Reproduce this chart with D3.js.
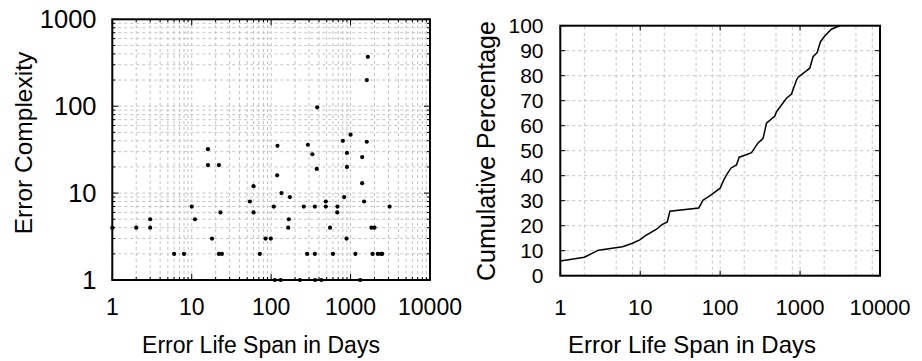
<!DOCTYPE html>
<html>
<head>
<meta charset="utf-8">
<script src="https://cdn.jsdelivr.net/npm/d3@7"></script>
<style>
  body { margin: 0; background: #fff; }
</style>
</head>
<body>
<div id="chart"></div>
<script>
// left panel: error life span (days) vs error complexity
const spanDays = [1, 2, 3, 3, 6, 8, 10, 11, 16, 16, 22, 18, 23, 22, 24,
  60, 54, 60, 72, 85, 99, 120, 119, 135, 172, 108, 167, 164,
  290, 330, 375, 800, 1600, 1650, 1600, 380, 1000, 900, 900, 1400, 1400,
  830, 1480, 258, 355, 488, 488, 684, 680, 3100, 552, 890, 1830, 2000,
  284, 355, 600, 1150, 1890, 2200, 2400, 2500,
  111, 132, 230, 358, 430, 1318];
const complexity = [4, 4, 4, 5, 2, 2, 7, 5, 32, 21, 21, 3, 6, 2, 2,
  12, 8, 6, 2, 3, 3, 35, 16, 10, 9, 7, 5, 4,
  36, 28, 19, 40, 39, 370, 200, 97, 47, 29, 20, 26, 13,
  9, 8, 7, 7, 7, 8, 7, 6, 7, 4, 3, 4, 4,
  2, 2, 2, 2, 2, 2, 2, 2,
  1, 1, 1, 1, 1, 1];

// right panel: cumulative percentage of errors by life span
const cdfDays = [1, 2, 3, 6, 8, 10, 11.5, 16, 18.5, 21.8, 23.5, 54, 61, 74, 100,
  111, 122, 136, 160, 173, 208, 247, 299, 330, 345, 380, 483, 507, 676,
  781, 902, 946, 1322, 1455, 1633, 1800, 2036, 2466, 3130];
const cdfPct = [5.9, 7.4, 10.2, 11.6, 13.0, 14.4, 15.9, 18.6, 20.3, 21.5, 25.8, 27.1, 30.2, 31.9, 35.0,
  38.3, 40.6, 43.0, 44.3, 47.4, 48.3, 49.2, 53.2, 54.3, 55.0, 61.0, 63.9, 65.6, 71.0,
  72.7, 78.3, 79.4, 83.0, 87.6, 89.2, 93.6, 95.9, 98.6, 100];

const xTickLabels = [1, 10, 100, 1000, 10000];
const yLeftTickLabels = [1, 10, 100, 1000];
const yRightTickLabels = [0, 10, 20, 30, 40, 50, 60, 70, 80, 90, 100];
const rightGridMult = [1, 2, 5, 8];

const FONT = "Liberation Sans";

const svg = d3.select("#chart")
    .append("svg")
    .attr("width", 922)
    .attr("height", 361)
    .attr("font-family", FONT);

const gridColor = "#c4c4c4";

//////////////////////////// left panel
const xL = d3.scaleLog().domain([1, 10000]).range([112.3, 430]);
const yL = d3.scaleLog().domain([1, 1000]).range([280, 19.3]);

let left = svg.append("g");

// grid at every minor value
left.selectAll(".vg")
    .data(xL.ticks())
    .enter()
    .append("line")
    .attr("x1", d => xL(d)).attr("x2", d => xL(d))
    .attr("y1", yL(1)).attr("y2", yL(1000))
    .attr("stroke", gridColor)
    .attr("stroke-dasharray", "3,3");

left.selectAll(".hg")
    .data(yL.ticks())
    .enter()
    .append("line")
    .attr("x1", xL(1)).attr("x2", xL(10000))
    .attr("y1", d => yL(d)).attr("y2", d => yL(d))
    .attr("stroke", gridColor)
    .attr("stroke-dasharray", "3,3");

// mirrored inward ticks
function isMajor(d) {
    return Math.abs(Math.log10(d) - Math.round(Math.log10(d))) < 1e-9;
}
xL.ticks().forEach(d => {
    let len = isMajor(d) ? 6 : 3;
    left.append("line").attr("x1", xL(d)).attr("x2", xL(d))
        .attr("y1", yL(1)).attr("y2", yL(1) - len).attr("stroke", "#000");
    left.append("line").attr("x1", xL(d)).attr("x2", xL(d))
        .attr("y1", yL(1000)).attr("y2", yL(1000) + len).attr("stroke", "#000");
});
yL.ticks().forEach(d => {
    let len = isMajor(d) ? 6 : 3;
    left.append("line").attr("x1", xL(1)).attr("x2", xL(1) + len)
        .attr("y1", yL(d)).attr("y2", yL(d)).attr("stroke", "#000");
    left.append("line").attr("x1", xL(10000)).attr("x2", xL(10000) - len)
        .attr("y1", yL(d)).attr("y2", yL(d)).attr("stroke", "#000");
});

left.append("rect")
    .attr("x", xL(1)).attr("y", yL(1000))
    .attr("width", xL(10000) - xL(1)).attr("height", yL(1) - yL(1000))
    .attr("fill", "none").attr("stroke", "#000").attr("stroke-width", 2);

left.selectAll(".dot")
    .data(spanDays)
    .enter()
    .append("circle")
    .attr("cx", d => xL(d))
    .attr("cy", (d, i) => yL(complexity[i]))
    .attr("r", 2.1)
    .attr("fill", "#000");

left.selectAll(".xl")
    .data(xTickLabels)
    .enter()
    .append("text")
    .attr("x", d => xL(d)).attr("y", 315)
    .attr("text-anchor", "middle")
    .attr("font-size", "23px")
    .text(d => d);

left.selectAll(".yl")
    .data(yLeftTickLabels)
    .enter()
    .append("text")
    .attr("x", 96.5).attr("y", d => yL(d))
    .attr("dy", "0.35em")
    .attr("text-anchor", "end")
    .attr("font-size", "25.5px")
    .text(d => d);

left.append("text")
    .text("Error Life Span in Days")
    .attr("x", 261).attr("y", 353)
    .attr("text-anchor", "middle")
    .attr("font-size", "23px");

left.append("text")
    .text("Error Complexity")
    .attr("transform", "translate(32, 143) rotate(-90)")
    .attr("text-anchor", "middle")
    .attr("font-size", "24.5px");

//////////////////////////// right panel
const xR = d3.scaleLog().domain([1, 10000]).range([560.3, 880]);
const yR = d3.scaleLinear().domain([0, 100]).range([275.7, 25.7]);

let right = svg.append("g");

let rightGrid = xR.ticks().filter(d => rightGridMult.indexOf(Math.round(d / Math.pow(10, Math.floor(Math.log10(d) + 1e-9)))) >= 0);

right.selectAll(".vg")
    .data(rightGrid)
    .enter()
    .append("line")
    .attr("x1", d => xR(d)).attr("x2", d => xR(d))
    .attr("y1", yR(0)).attr("y2", yR(100))
    .attr("stroke", gridColor)
    .attr("stroke-dasharray", "3,3");

right.selectAll(".hg")
    .data(yRightTickLabels)
    .enter()
    .append("line")
    .attr("x1", xR(1)).attr("x2", xR(10000))
    .attr("y1", d => yR(d)).attr("y2", d => yR(d))
    .attr("stroke", gridColor)
    .attr("stroke-dasharray", "3,3");

xTickLabels.forEach(d => {
    right.append("line").attr("x1", xR(d)).attr("x2", xR(d))
        .attr("y1", yR(0)).attr("y2", yR(0) - 5).attr("stroke", "#000");
    right.append("line").attr("x1", xR(d)).attr("x2", xR(d))
        .attr("y1", yR(100)).attr("y2", yR(100) + 5).attr("stroke", "#000");
});
yRightTickLabels.forEach(d => {
    right.append("line").attr("x1", xR(1)).attr("x2", xR(1) + 5)
        .attr("y1", yR(d)).attr("y2", yR(d)).attr("stroke", "#000");
    right.append("line").attr("x1", xR(10000)).attr("x2", xR(10000) - 5)
        .attr("y1", yR(d)).attr("y2", yR(d)).attr("stroke", "#000");
});

right.append("rect")
    .attr("x", xR(1)).attr("y", yR(100))
    .attr("width", xR(10000) - xR(1)).attr("height", yR(0) - yR(100))
    .attr("fill", "none").attr("stroke", "#000").attr("stroke-width", 2);

let cdfLine = d3.line()
    .x(d => xR(d))
    .y((d, i) => yR(cdfPct[i]));

right.append("path")
    .datum(cdfDays)
    .attr("d", cdfLine)
    .attr("fill", "none")
    .attr("stroke", "#000")
    .attr("stroke-width", 1.5);

right.selectAll(".xl")
    .data(xTickLabels)
    .enter()
    .append("text")
    .attr("x", d => xR(d)).attr("y", 315)
    .attr("text-anchor", "middle")
    .attr("font-size", "22px")
    .text(d => d);

right.selectAll(".yl")
    .data(yRightTickLabels)
    .enter()
    .append("text")
    .attr("x", 543.5).attr("y", d => yR(d))
    .attr("dy", "0.35em")
    .attr("text-anchor", "end")
    .attr("font-size", "21px")
    .text(d => d);

right.append("text")
    .text("Error Life Span in Days")
    .attr("x", 692).attr("y", 353)
    .attr("text-anchor", "middle")
    .attr("font-size", "24px");

right.append("text")
    .text("Cumulative Percentage")
    .attr("transform", "translate(495, 151) rotate(-90)")
    .attr("text-anchor", "middle")
    .attr("font-size", "25px");
</script>
</body>
</html>
